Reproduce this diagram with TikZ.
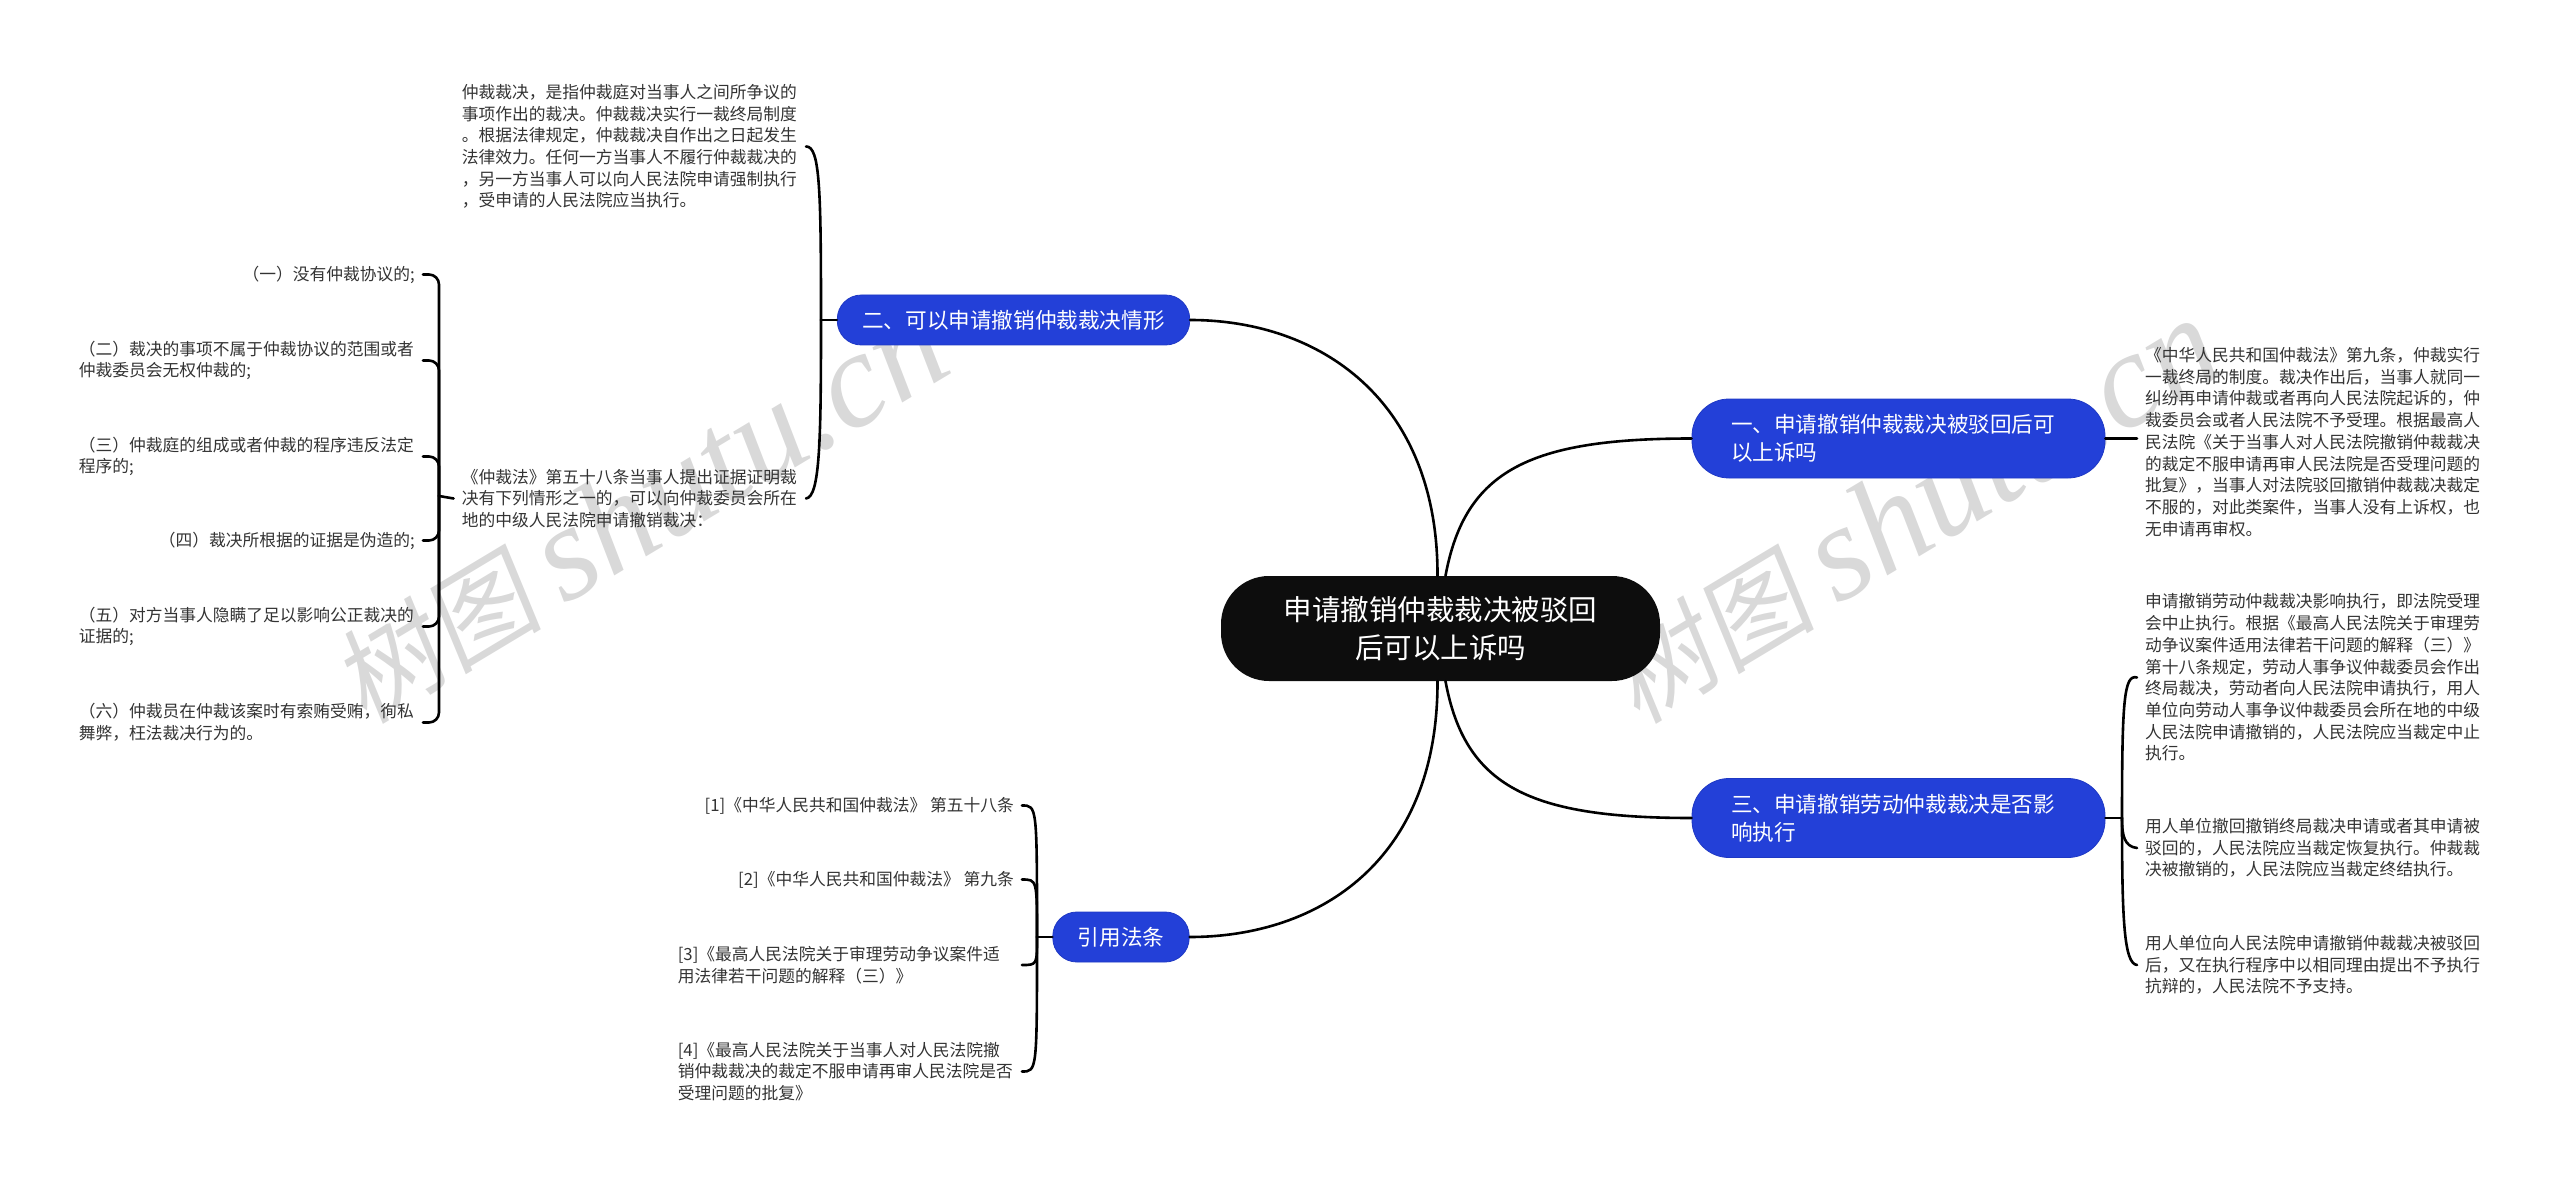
\documentclass[tikz,border=0pt]{standalone}
\usepackage{fontspec}
\newfontfamily\cjk{Noto Sans CJK SC}
\newfontfamily\wmcjk[FakeSlant=0.15]{Noto Sans CJK SC}
\newfontfamily\wmlatin{Liberation Serif}
\definecolor{rootblack}{HTML}{0D0D0D}
\definecolor{topicblue}{HTML}{2340D8}
\definecolor{topicedge}{HTML}{1E38C4}
\definecolor{leafgray}{HTML}{333333}
\definecolor{wmgray}{HTML}{D9D9D9}
\begin{document}
\begin{tikzpicture}[x=1pt, y=-1pt,
    root/.style={fill=rootblack, text=white, rounded corners=48pt, minimum width=439pt, minimum height=105pt, align=center, font=\cjk\fontsize{28.5}{38}\selectfont},
    topic/.style={fill=topicblue, draw=topicedge, line width=0.8pt, text=white, rounded corners=24pt, inner xsep=25pt, inner ysep=0pt, minimum height=50pt, font=\cjk\fontsize{21.6}{28}\selectfont},
    tall/.style={topic, rounded corners=37pt, inner xsep=39pt, minimum height=79pt, text width=335pt, align=left},
    leaf/.style={text=leafgray, inner xsep=8pt, inner ysep=0pt, yshift=-1.5pt, font=\cjk\fontsize{16.75}{21.7}\selectfont},
    para/.style={leaf, text width=336pt, align=left},
    twig/.style={line width=2.6pt, line cap=round, black},
    wmark/.style={text=wmgray, rotate=31, inner sep=0pt, font=\fontsize{105}{105}\selectfont}]
    \useasboundingbox (0,0) rectangle (2560,1182);
    \node[wmark] (w1) at (639,511) {{\wmcjk 树图}\hspace{22pt}{\wmlatin\itshape\fontsize{136}{136}\selectfont shutu.cn}};
    \node[wmark] (w2) at (1912,511) {{\wmcjk 树图}\hspace{22pt}{\wmlatin\itshape\fontsize{136}{136}\selectfont shutu.cn}};

    \node[root] (main) at (1440.5,628.5) {申请撤销仲裁裁决被驳回\\后可以上诉吗};
    \node[tall] (b1) at (1898.5,438.5) {一、申请撤销仲裁裁决被驳回后可\\以上诉吗};
    \node[topic] (b2) at (1013.5,320) {二、可以申请撤销仲裁裁决情形};
    \node[tall] (b3) at (1898.5,818) {三、申请撤销劳动仲裁裁决是否影\\响执行};
    \node[topic] (b4) at (1121,937) {引用法条};

    \node[para, anchor=east] (t1) at (806,145) {仲裁裁决，是指仲裁庭对当事人之间所争议的\\事项作出的裁决。仲裁裁决实行一裁终局制度\\。根据法律规定，仲裁裁决自作出之日起发生\\法律效力。任何一方当事人不履行仲裁裁决的\\，另一方当事人可以向人民法院申请强制执行\\，受申请的人民法院应当执行。};
    \node[para, anchor=east] (t2) at (806,497) {《仲裁法》第五十八条当事人提出证据证明裁\\决有下列情形之一的，可以向仲裁委员会所在\\地的中级人民法院申请撤销裁决：};

    \node[leaf, anchor=east] (s1) at (423,273) {（一）没有仲裁协议的;};
    \node[para, anchor=east] (s2) at (423,359) {（二）裁决的事项不属于仲裁协议的范围或者\\仲裁委员会无权仲裁的;};
    \node[para, anchor=east] (s3) at (423,455) {（三）仲裁庭的组成或者仲裁的程序违反法定\\程序的;};
    \node[leaf, anchor=east] (s4) at (423,539) {（四）裁决所根据的证据是伪造的;};
    \node[para, anchor=east] (s5) at (423,625) {（五）对方当事人隐瞒了足以影响公正裁决的\\证据的;};
    \node[para, anchor=east] (s6) at (423,721) {（六）仲裁员在仲裁该案时有索贿受贿，徇私\\舞弊，枉法裁决行为的。};

    \node[leaf, anchor=east] (r1) at (1022,804) {[1]《中华人民共和国仲裁法》 第五十八条};
    \node[leaf, anchor=east] (r2) at (1022,878) {[2]《中华人民共和国仲裁法》 第九条};
    \node[para, anchor=east] (r3) at (1022,963.5) {[3]《最高人民法院关于审理劳动争议案件适\\用法律若干问题的解释（三）》};
    \node[para, anchor=east] (r4) at (1022,1070) {[4]《最高人民法院关于当事人对人民法院撤\\销仲裁裁决的裁定不服申请再审人民法院是否\\受理问题的批复》};

    \node[para, anchor=west] (u1) at (2137,440.5) {《中华人民共和国仲裁法》第九条，仲裁实行\\一裁终局的制度。裁决作出后，当事人就同一\\纠纷再申请仲裁或者再向人民法院起诉的，仲\\裁委员会或者人民法院不予受理。根据最高人\\民法院《关于当事人对人民法院撤销仲裁裁决\\的裁定不服申请再审人民法院是否受理问题的\\批复》，当事人对法院驳回撤销仲裁裁决裁定\\不服的，对此类案件，当事人没有上诉权，也\\无申请再审权。};
    \node[para, anchor=west] (v1) at (2137,676) {申请撤销劳动仲裁裁决影响执行，即法院受理\\会中止执行。根据《最高人民法院关于审理劳\\动争议案件适用法律若干问题的解释（三）》\\第十八条规定，劳动人事争议仲裁委员会作出\\终局裁决，劳动者向人民法院申请执行，用人\\单位向劳动人事争议仲裁委员会所在地的中级\\人民法院申请撤销的，人民法院应当裁定中止\\执行。};
    \node[para, anchor=west] (v2) at (2137,846.5) {用人单位撤回撤销终局裁决申请或者其申请被\\驳回的，人民法院应当裁定恢复执行。仲裁裁\\决被撤销的，人民法院应当裁定终结执行。};
    \node[para, anchor=west] (v3) at (2137,963.5) {用人单位向人民法院申请撤销仲裁裁决被驳回\\后，又在执行程序中以相同理由提出不予执行\\抗辩的，人民法院不予支持。};

    \coordinate (bus2) at (821,320);
    \coordinate (bus3) at (2122,818);
    \coordinate (bus4) at (1037,937);
    \coordinate (bus5) at (439,496);

    % main branches
    \draw[twig] ([xshift=-3pt]main.north) .. controls (1438,400) and (1320,320) .. (b2.east);
    \draw[twig] ([xshift=5pt]main.north) .. controls (1465,470) and (1530,438.5) .. (b1.west);
    \draw[twig] ([xshift=5pt]main.south) .. controls (1465,787) and (1530,818) .. (b3.west);
    \draw[twig] ([xshift=-3pt]main.south) .. controls (1438,860) and (1320,937) .. (b4.east);

    % second level
    \draw[twig] (b1.east) -- (b1.east -| u1.west);
    \draw[twig] (b2.west) -- (bus2);
    \draw[twig] (bus2) .. controls (821,190) and (820,146) .. (t1.east);
    \draw[twig] (bus2) .. controls (821,440) and (820,497) .. (t2.east);
    \draw[twig] (b3.east) -- (bus3);
    \draw[twig] (bus3) .. controls (2122,700) and (2124,674) .. (v1.west);
    \draw[twig] (bus3) .. controls (2122,835) and (2124,846.5) .. (v2.west);
    \draw[twig] (bus3) .. controls (2122,920) and (2124,963.5) .. (v3.west);
    \draw[twig] (b4.west) -- (bus4);
    \foreach \k in {r1,r2,r3,r4}
        \draw[twig] (bus4) .. controls (bus4 |- \k.east) and (bus4 |- \k.east) .. (\k.east);

    % third level
    \draw[twig] (t2.west) -- (bus5);
    \foreach \k in {s1,s2,s3,s4,s5,s6}
        \draw[twig, rounded corners=10pt] (\k.east) -| (bus5);
\end{tikzpicture}
\end{document}
